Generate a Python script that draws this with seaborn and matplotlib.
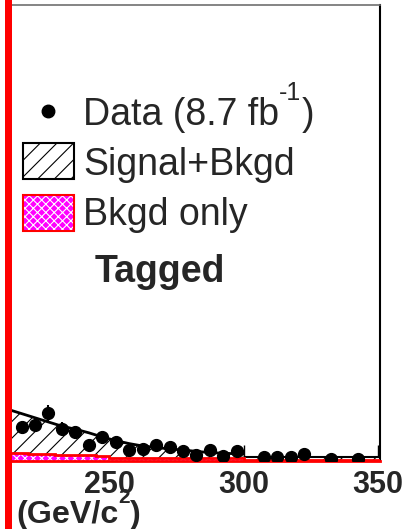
import matplotlib
matplotlib.use("Agg")
import matplotlib.pyplot as plt
from matplotlib.patches import Rectangle
from matplotlib.lines import Line2D
import numpy as np
import pandas as pd
import seaborn as sns

# Reconstructed mass, 5 GeV/c^2 bins (tagged sample)
mass_centers = [217.5, 222.5, 227.5, 232.5, 237.5, 242.5, 247.5, 252.5, 257.5,
                262.5, 267.5, 272.5, 277.5, 282.5, 287.5, 292.5, 297.5, 302.5,
                307.5, 312.5, 317.5, 322.5, 327.5, 332.5, 337.5, 342.5, 347.5]
data_counts = [28, 30, 40, 27, 24, 13, 20, 16, 9,
               10, 13, 12, 8, 5, 9, 4, 8, 0,
               3, 3, 3, 6, 0, 2, 0, 2, 0]

# Signal+background expectation
sb_mass = [212.5, 217.5, 222.5, 227.5, 232.5, 237.5, 242.5, 247.5, 252.5, 257.5,
           262.5, 267.5, 272.5, 277.5, 282.5, 287.5, 292.5, 297.5, 300.0]
sb_expect = [43.0, 39.5, 36.0, 32.5, 29.0, 26.5, 23.5, 20.0, 17.0, 14.5,
             12.5, 11.3, 10.0, 9.2, 8.0, 7.0, 6.5, 6.0, 5.8]
sb_tail_edges = [300, 350.7]
sb_tail = [3.3]

# Background-only expectation
bkg_edges = [210, 215, 220, 225, 230, 235, 240, 245, 250, 300, 350.7]
bkg_expect = [7.0, 6.7, 6.2, 5.8, 5.4, 5.0, 4.6, 4.2, 2.1, 0.8]

tick_values = [250, 300, 350]
tick_labels = ["250", "300", "350"]
data_label = ["Data (8.7 fb", "-1", ")"]
legend_labels = ["Signal+Bkgd", "Bkgd only"]
sample_label = "Tagged"
axis_unit = ["(GeV/c", "2", ")"]

W, H = 410, 529
MAGENTA = "#ff00ff"

sns.set_theme(style="white")
plt.rcParams["font.family"] = ["Liberation Sans", "DejaVu Sans"]
plt.rcParams["hatch.linewidth"] = 0.8


def fpos(x, y):
    """pixel position -> figure fraction"""
    return x / W, 1 - y / H


fig = plt.figure(figsize=(W / 100, H / 100), dpi=100)
fig.patch.set_facecolor("white")
ax = fig.add_axes([12 / W, 68 / H, 368 / W, 456 / H])
ax.set_facecolor("white")

# Signal+Bkgd hatched expectation
ax.fill_between(sb_mass, sb_expect, facecolor="white", edgecolor="black",
                hatch="//", linewidth=0, zorder=1)
ax.stairs(sb_tail, sb_tail_edges, fill=True, facecolor="white",
          edgecolor="black", hatch="//", linewidth=0, zorder=1)
sb_df = pd.DataFrame({"mass": sb_mass, "expect": sb_expect})
sns.lineplot(data=sb_df, x="mass", y="expect", color="black", linewidth=2,
             ax=ax, zorder=3)
ax.stairs(sb_tail, sb_tail_edges, color="black", linewidth=1.5,
          baseline=None, zorder=3)

# Background-only band
ax.stairs(bkg_expect, bkg_edges, fill=True, facecolor=MAGENTA,
          edgecolor="white", hatch="xxxx", linewidth=0, zorder=2)
ax.stairs(bkg_expect, bkg_edges, color="red", linewidth=2, baseline=None,
          zorder=4)

# Data points with Poisson errors (empty bins not drawn)
df = pd.DataFrame({"mass": mass_centers, "n": data_counts})
df = df[df["n"] > 0]
ax.errorbar(df["mass"], df["n"], yerr=np.sqrt(df["n"]), fmt="o", color="black",
            ms=8.5, elinewidth=1.5, capsize=0, zorder=5)

ax.set_xlim(213.94, 350.74)
ax.set_ylim(0, 380)
ax.set_yticks([])
ax.set_xlabel("")
ax.set_ylabel("")
ax.set_xticks(tick_values, tick_labels, fontsize=22, fontweight="bold")
ax.tick_params(axis="x", direction="in", length=11.5, width=1,
               color="black", pad=6.5, bottom=True, top=False)

ax.spines["left"].set_visible(False)
ax.spines["top"].set_color("#707070")
ax.spines["top"].set_linewidth(1.2)
ax.spines["right"].set_color("black")
ax.spines["right"].set_linewidth(1.5)
ax.spines["bottom"].set_color("red")
ax.spines["bottom"].set_linewidth(2)

# red bar along the left edge
fig.add_artist(Rectangle(fpos(5, H), 7 / W, 1, transform=fig.transFigure,
                         facecolor="red", edgecolor="none", zorder=10))

renderer = fig.canvas.get_renderer()


def text_run(x, pieces, **kw):
    """Write text pieces one after another; each piece is (text, baseline, size)."""
    for txt, base, size in pieces:
        t = fig.text(*fpos(x, base), txt, fontsize=size, ha="left",
                     va="baseline", **kw)
        x = t.get_window_extent(renderer).x1


# legend, drawn by hand in figure coordinates
fs = 27
fig.add_artist(Line2D([48 / W], [fpos(0, 111)[1]], marker="o", ms=9,
                      color="black", linestyle="none",
                      transform=fig.transFigure))
fig.add_artist(Rectangle(fpos(23, 179), 51 / W, 36 / H,
                         transform=fig.transFigure, facecolor="white",
                         edgecolor="black", hatch="//", linewidth=1.5))
fig.add_artist(Rectangle(fpos(23, 231), 51 / W, 36 / H,
                         transform=fig.transFigure, facecolor=MAGENTA,
                         edgecolor="white", hatch="xxxx", linewidth=0))
fig.add_artist(Rectangle(fpos(23, 231), 51 / W, 36 / H,
                         transform=fig.transFigure, facecolor="none",
                         edgecolor="red", linewidth=1.5))
text_run(83, [(data_label[0], 125, fs), (data_label[1], 100, 18),
              (data_label[2], 125, fs)])
for label, base in zip(legend_labels, [175, 225]):
    fig.text(*fpos(83, base), label, fontsize=fs, ha="left", va="baseline")
fig.text(*fpos(95, 282), sample_label, fontsize=fs, fontweight="bold",
         ha="left", va="baseline")

# axis unit under the tick labels
text_run(16, [(axis_unit[0], 523, 23.2), (axis_unit[1], 503, 15),
              (axis_unit[2], 523, 23.2)], fontweight="bold")

fig.savefig("out.png", dpi=100)
